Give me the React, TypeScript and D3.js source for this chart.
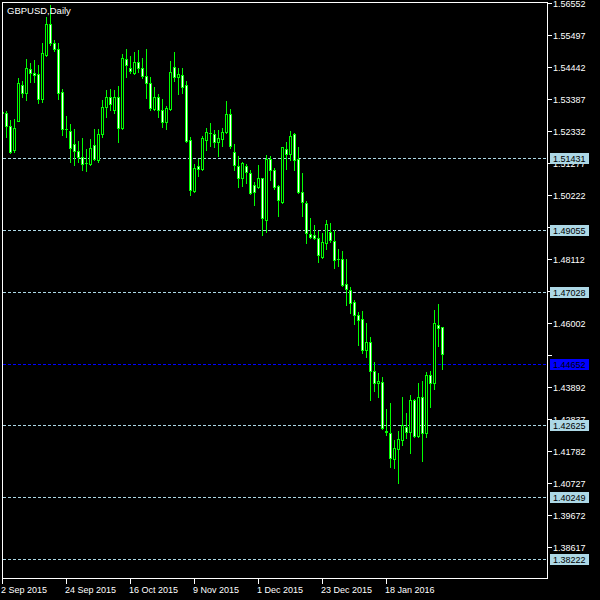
import React from "react";
import * as d3 from "d3";

// GBPUSD daily bars, 2 Sep 2015 onward
const open = [
  1.52958, 1.52926, 1.52497, 1.51706, 1.52662, 1.53849, 1.53585, 1.54376, 1.54244, 1.54211,
  1.53387, 1.54838, 1.55860, 1.55233, 1.55036, 1.53618, 1.52398, 1.52332, 1.51903, 1.51673,
  1.51475, 1.51277, 1.51244, 1.51870, 1.51376, 1.52233, 1.53123, 1.53453, 1.53024, 1.53453,
  1.52431, 1.54706, 1.54409, 1.54244, 1.54607, 1.54409, 1.54145, 1.53915, 1.53057, 1.53453,
  1.53024, 1.52629, 1.53057, 1.54442, 1.54112, 1.54178, 1.53849, 1.52035, 1.50354, 1.51178,
  1.51079, 1.52035, 1.52266, 1.52233, 1.51969, 1.52068, 1.52299, 1.52893, 1.51640, 1.51178,
  1.50783, 1.51178, 1.50947, 1.50552, 1.50486, 1.50783, 1.49398, 1.51409, 1.51046, 1.50519,
  1.49991, 1.51739, 1.51574, 1.52233, 1.51409, 1.50321, 1.49958, 1.48936, 1.48903, 1.48804,
  1.48178, 1.48640, 1.49002, 1.48705, 1.48112, 1.48112, 1.47288, 1.47090, 1.46694, 1.46266,
  1.46134, 1.45112, 1.45376, 1.44420, 1.44024, 1.44057, 1.42441, 1.42375, 1.41518, 1.41848,
  1.42145, 1.42573, 1.42408, 1.43463, 1.42277, 1.43562, 1.42375, 1.44288, 1.44024, 1.45936,
  1.45870,
];
const high = [
  1.52991, 1.53024, 1.52728, 1.52761, 1.54112, 1.54013, 1.54739, 1.54607, 1.54706, 1.54541,
  1.55266, 1.56123, 1.56519, 1.55365, 1.55266, 1.53750, 1.52860, 1.52596, 1.52431, 1.52035,
  1.52134, 1.51772, 1.52101, 1.52431, 1.52431, 1.53387, 1.53717, 1.53750, 1.53717, 1.53849,
  1.54904, 1.55068, 1.54838, 1.54970, 1.55036, 1.54772, 1.55068, 1.54145, 1.53816, 1.53585,
  1.53420, 1.53189, 1.54673, 1.54970, 1.54442, 1.54442, 1.54013, 1.52167, 1.51277, 1.51442,
  1.52200, 1.52464, 1.52629, 1.52398, 1.52398, 1.52464, 1.53354, 1.53090, 1.51936, 1.51541,
  1.51343, 1.51277, 1.51079, 1.50684, 1.51244, 1.50815, 1.51574, 1.51541, 1.51145, 1.50585,
  1.51838, 1.52002, 1.52365, 1.52299, 1.51838, 1.50980, 1.50057, 1.49497, 1.49266, 1.49068,
  1.49002, 1.49431, 1.49332, 1.49101, 1.48475, 1.48409, 1.48145, 1.47222, 1.46793, 1.46398,
  1.46431, 1.46035, 1.45573, 1.44749, 1.44387, 1.44255, 1.43200, 1.43397, 1.42178, 1.42474,
  1.43595, 1.43068, 1.43661, 1.43529, 1.44057, 1.44123, 1.44420, 1.44453, 1.46464, 1.46661,
  1.45903,
];
const low = [
  1.52893, 1.52134, 1.51607, 1.51640, 1.52662, 1.53453, 1.53354, 1.53948, 1.53948, 1.53255,
  1.53288, 1.54805, 1.55167, 1.54970, 1.53387, 1.52200, 1.52134, 1.51310, 1.51211, 1.51310,
  1.51046, 1.51013, 1.51211, 1.51376, 1.51310, 1.52134, 1.52794, 1.53024, 1.52926, 1.51969,
  1.52398, 1.54112, 1.54244, 1.54211, 1.54277, 1.54079, 1.53420, 1.53024, 1.53024, 1.52794,
  1.52464, 1.52398, 1.53024, 1.53981, 1.53552, 1.53585, 1.51969, 1.50222, 1.50321, 1.50848,
  1.51046, 1.51706, 1.51838, 1.51805, 1.51508, 1.51838, 1.52266, 1.51772, 1.51046, 1.50486,
  1.50519, 1.50618, 1.50255, 1.49892, 1.50453, 1.48903, 1.49002, 1.50717, 1.50420, 1.49530,
  1.49958, 1.51079, 1.51376, 1.51046, 1.50288, 1.49530, 1.48640, 1.48804, 1.48771, 1.48013,
  1.48145, 1.48442, 1.48673, 1.47815, 1.47881, 1.47222, 1.46595, 1.46332, 1.45969, 1.45277,
  1.45013, 1.44881, 1.43463, 1.43760, 1.43562, 1.42507, 1.42309, 1.41254, 1.41221, 1.40727,
  1.41980, 1.42211, 1.41716, 1.42244, 1.42244, 1.41452, 1.42244, 1.43233, 1.43826, 1.45244,
  1.44486,
];
const close = [
  1.52926, 1.52497, 1.51640, 1.52431, 1.53915, 1.53585, 1.54409, 1.54244, 1.54178, 1.53387,
  1.54904, 1.55860, 1.55233, 1.55036, 1.53585, 1.52398, 1.52382, 1.51772, 1.51673, 1.51475,
  1.51244, 1.51261, 1.51772, 1.51409, 1.52233, 1.53123, 1.53453, 1.53222, 1.53453, 1.52431,
  1.54739, 1.54508, 1.54310, 1.54607, 1.54409, 1.54145, 1.53915, 1.53090, 1.53453, 1.53024,
  1.52629, 1.53090, 1.54277, 1.54112, 1.54211, 1.53783, 1.52002, 1.50387, 1.51112, 1.51079,
  1.52101, 1.52299, 1.52250, 1.51969, 1.52101, 1.52299, 1.52893, 1.51838, 1.51211, 1.50783,
  1.51277, 1.50980, 1.50288, 1.50321, 1.50783, 1.49464, 1.51409, 1.51046, 1.50486, 1.50057,
  1.51805, 1.51574, 1.52167, 1.51376, 1.50321, 1.49991, 1.48969, 1.48837, 1.48804, 1.48244,
  1.48673, 1.49266, 1.48738, 1.48079, 1.48096, 1.47255, 1.47123, 1.46661, 1.46266, 1.46101,
  1.45112, 1.45376, 1.44420, 1.44024, 1.44090, 1.42540, 1.42408, 1.41551, 1.41881, 1.42178,
  1.42639, 1.42408, 1.43463, 1.42277, 1.43562, 1.42375, 1.44288, 1.44024, 1.46002, 1.45837,
  1.44980,
];

// Price scale ticks and horizontal levels
const priceTicks = [
  1.56552, 1.55497, 1.54442, 1.53387, 1.52332, 1.51277, 1.50222, 1.49167, 1.48112,
  1.47057, 1.46002, 1.44947, 1.43892, 1.42837, 1.41782, 1.40727, 1.39672, 1.38617,
];
const levels = [1.51431, 1.49055, 1.47028, 1.42625, 1.40249, 1.38222];
const bidPrice = 1.44652;

// Date labels and the bar each one sits under
const dateLabels = [
  "2 Sep 2015", "24 Sep 2015", "16 Oct 2015", "9 Nov 2015",
  "1 Dec 2015", "23 Dec 2015", "18 Jan 2016",
];
const dateBars = [0, 16, 32, 48, 64, 80, 96];

const title = "GBPUSD,Daily";

const W = 600;
const H = 600;
const plotLeft = 2.5;
const plotRight = 547.5;
const plotTop = 2.5;
const plotBottom = 578.5;
const FONT = "'Liberation Sans', Arial, sans-serif";
const GREEN = "#00ff00";
const LEVEL = "#add8e6";
const BID = "#0000ff";

export default function App() {
  const n = open.length;
  const x = d3
    .scaleBand<number>()
    .domain(d3.range(n))
    .range([0.5, 0.5 + 4 * n])
    .paddingInner(0)
    .paddingOuter(0);
  const y = d3.scaleLinear().domain([1.38617, 1.56552]).range([547, 3]);
  const py = (v: number) => Math.round(y(v)) + 0.5;
  const fmt = d3.format(".5f");

  const candles = d3.range(n).map((i) => {
    const cx = (x(i) as number) + 2;
    const o = open[i];
    const c = close[i];
    const top = Math.round(y(Math.max(o, c)));
    const bot = Math.round(y(Math.min(o, c)));
    const bull = c > o;
    return (
      <g key={i}>
        <line x1={cx} x2={cx} y1={py(high[i])} y2={py(low[i])} stroke={GREEN} />
        {bot - top < 1 ? (
          <line x1={cx - 1.5} x2={cx + 1.5} y1={top + 0.5} y2={top + 0.5} stroke={GREEN} />
        ) : (
          <rect
            x={cx - 1}
            y={top + 0.5}
            width={2}
            height={bot - top}
            fill={bull ? "#000000" : "#ffffff"}
            stroke={GREEN}
          />
        )}
      </g>
    );
  });

  // the bid label takes the place of the scale label right next to it
  const bidY = y(bidPrice);

  return (
    <svg
      width={W}
      height={H}
      style={{ position: "absolute", left: 0, top: 0, background: "#000" }}
      shapeRendering="crispEdges"
    >
      <rect x={0} y={0} width={W} height={H} fill="#000" />
      <defs>
        <clipPath id="plot">
          <rect x={plotLeft} y={plotTop} width={plotRight - plotLeft} height={plotBottom - plotTop} />
        </clipPath>
      </defs>

      {/* horizontal levels */}
      <g clipPath="url(#plot)">
        {levels.map((v) => (
          <line
            key={v}
            x1={plotLeft}
            x2={plotRight}
            y1={py(v)}
            y2={py(v)}
            stroke={LEVEL}
            strokeDasharray="3,2"
          />
        ))}
        <line
          x1={plotLeft}
          x2={plotRight}
          y1={py(bidPrice)}
          y2={py(bidPrice)}
          stroke={BID}
          strokeDasharray="3,2"
        />
        {candles}
      </g>

      {/* frame */}
      <rect
        x={plotLeft}
        y={plotTop}
        width={plotRight - plotLeft}
        height={plotBottom - plotTop}
        fill="none"
        stroke="#fff"
      />

      <text x={7} y={14} fill="#fff" fontFamily={FONT} fontSize={9.5}>
        {title}
      </text>

      {/* price axis */}
      {priceTicks.map((v) => (
        <g key={v}>
          <line x1={plotRight} x2={plotRight + 4} y1={py(v)} y2={py(v)} stroke="#fff" />
          {Math.abs(y(v) - bidY) > 12 && (
            <text
              x={553}
              y={py(v)}
              dy="0.35em"
              fill="#fff"
              fontFamily={FONT}
              fontSize={9}
            >
              {fmt(v)}
            </text>
          )}
        </g>
      ))}
      {levels.map((v) => (
        <g key={"lab" + v}>
          <rect x={550} y={py(v) - 5.5} width={39} height={11} fill={LEVEL} />
          <text x={553} y={py(v)} dy="0.35em" fill="#000" fontFamily={FONT} fontSize={9}>
            {fmt(v)}
          </text>
        </g>
      ))}
      <rect x={550} y={py(bidPrice) - 5.5} width={39} height={11} fill={BID} />
      <text x={553} y={py(bidPrice)} dy="0.35em" fill="#000" fontFamily={FONT} fontSize={9}>
        {fmt(bidPrice)}
      </text>

      {/* date axis */}
      {dateBars.map((b, k) => {
        const tx = (x(b) as number) + 2;
        return (
          <g key={b}>
            <line x1={tx} x2={tx} y1={plotBottom} y2={plotBottom + 5} stroke="#fff" />
            <text x={tx - 1.5} y={593} fill="#fff" fontFamily={FONT} fontSize={9}>
              {dateLabels[k]}
            </text>
          </g>
        );
      })}
    </svg>
  );
}
